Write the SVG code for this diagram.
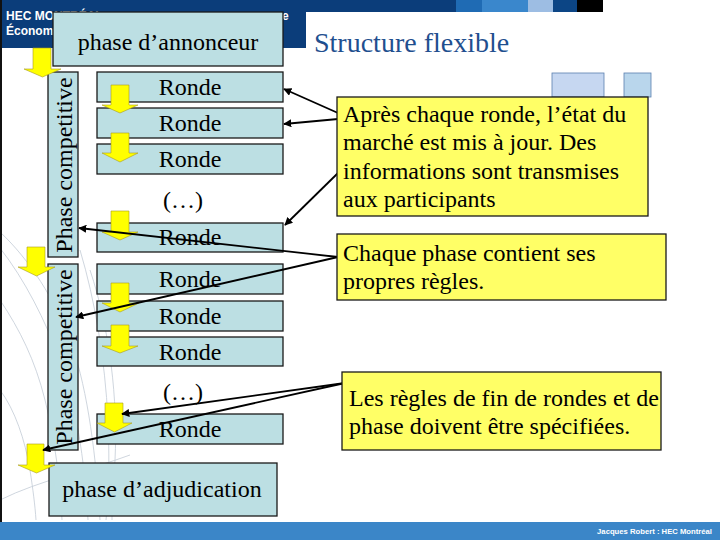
<svg xmlns="http://www.w3.org/2000/svg" width="720" height="540" viewBox="0 0 720 540">
<defs>
<style>
.box{fill:#bcdfe3;stroke:#1a1a1a;stroke-width:1.3}
.note{fill:#ffff66;stroke:#1a1a1a;stroke-width:1.3}
.t{font-size:24px;fill:#000}
.mid{text-anchor:middle}
.ya{fill:#ffff00;stroke:#a89a20;stroke-width:0.6}
.con{stroke:#000;stroke-width:1.8;fill:none;marker-end:url(#ah)}
.bg{fill:none;stroke:#c3cbd6;stroke-width:0.8}
.hdr{font-weight:bold;font-size:12px;fill:#fff}
</style>
<marker id="ah" viewBox="0 0 10 10" refX="9" refY="5" markerWidth="4.5" markerHeight="4.5" orient="auto" markerUnits="strokeWidth">
<path d="M0,0 L10,5 L0,10 Z" fill="#000"/>
</marker>
</defs>

<rect x="0" y="0" width="720" height="540" fill="#fff"/>

<!-- faint background lines -->
<g id="background-lines">
<path class="bg" d="M0,232 C30,260 55,300 70,340 C85,380 95,440 100,520"/>
<path class="bg" d="M0,248 C25,280 45,320 60,360 C75,400 85,460 88,520"/>
<path class="bg" d="M0,300 C20,330 35,360 45,400 C55,440 60,480 62,520"/>
<path class="bg" d="M0,390 C15,410 25,440 30,470 C33,490 35,505 36,520"/>
<path class="bg" d="M0,500 C40,480 90,470 130,455"/>
<path class="bg" d="M80,250 C95,300 105,360 108,420 C110,470 108,500 106,520"/>
<path class="bg" d="M90,270 C110,330 118,400 115,460 C113,490 112,505 112,520"/>
</g>

<!-- header -->
<g id="header" font-family="'Liberation Sans', Arial, sans-serif">
<rect x="0" y="0" width="306" height="48" fill="#0b3d7a"/>
<rect x="0" y="0" width="456" height="12" fill="#0b3d7a"/>
<rect x="456" y="0" width="26" height="12" fill="#1f6bb4"/>
<rect x="482" y="0" width="46" height="12" fill="#3a87cc"/>
<rect x="528" y="0" width="25" height="12" fill="#9dbde3"/>
<rect x="553" y="0" width="24" height="12" fill="#0c4585"/>
<rect x="577" y="0" width="26" height="12" fill="#000"/>
<rect x="0" y="0" width="2" height="522" fill="#111"/>
<text class="hdr" x="6" y="20">HEC MONTRÉAL</text>
<text class="hdr" x="6" y="35">Économie</text>
<text class="hdr" x="282" y="20">e</text>
</g>

<g id="title">
<text x="314" y="52" font-family="'Liberation Serif', 'Times New Roman', serif" font-size="28" fill="#1f4f8f">Structure flexible</text>
</g>

<g id="deco-squares">
<rect x="552" y="73" width="52" height="24" fill="#c6d7f1" stroke="#5a7fb0" stroke-width="0.8"/>
<rect x="624" y="73" width="27" height="24" fill="#b9d6ec" stroke="#5a7fb0" stroke-width="0.8"/>
</g>

<g id="diagram" font-family="'Liberation Serif', 'Times New Roman', serif">
<!-- nodes -->
<g id="node-annonceur">
<rect class="box" x="53" y="12" width="230" height="54"/>
<text class="t mid" x="168" y="50">phase d’annonceur</text>
</g>

<g id="node-phase-comp-1">
<rect class="box" x="48" y="72" width="30" height="185"/>
<text class="t mid" transform="translate(72,165) rotate(-90)">Phase competitive</text>
</g>

<g id="node-phase-comp-2">
<rect class="box" x="48" y="264" width="30" height="186"/>
<text class="t mid" transform="translate(72,357) rotate(-90)">Phase competitive</text>
</g>

<g id="node-ronde-1"><rect class="box" x="97" y="72" width="186" height="30"/><text class="t mid" x="190" y="95">Ronde</text></g>
<g id="node-ronde-2"><rect class="box" x="97" y="108" width="186" height="30"/><text class="t mid" x="190" y="131">Ronde</text></g>
<g id="node-ronde-3"><rect class="box" x="97" y="144" width="186" height="30"/><text class="t mid" x="190" y="167">Ronde</text></g>
<g id="node-etc-1"><text class="t mid" x="183" y="208">(…)</text></g>
<g id="node-ronde-4"><rect class="box" x="97" y="223" width="186" height="29"/><text class="t mid" x="190" y="245">Ronde</text></g>
<g id="node-ronde-5"><rect class="box" x="97" y="264" width="186" height="30"/><text class="t mid" x="190" y="287">Ronde</text></g>
<g id="node-ronde-6"><rect class="box" x="97" y="301" width="186" height="30"/><text class="t mid" x="190" y="324">Ronde</text></g>
<g id="node-ronde-7"><rect class="box" x="97" y="337" width="186" height="29"/><text class="t mid" x="190" y="360">Ronde</text></g>
<g id="node-etc-2"><text class="t mid" x="183" y="400">(…)</text></g>
<g id="node-ronde-8"><rect class="box" x="97" y="414" width="186" height="30"/><text class="t mid" x="190" y="437">Ronde</text></g>

<g id="node-adjudication">
<rect class="box" x="49" y="463" width="228" height="53"/>
<text class="t mid" x="162" y="497">phase d’adjudication</text>
</g>

<!-- yellow block arrows -->
<g id="flow-arrows">
<path class="ya" d="M33,48 H51 V69 H61 L42.5,77 L24,69 H33 Z"/>
<path class="ya" d="M27,247 H45 V267 H55 L36.5,276 L18,267 H27 Z"/>
<path class="ya" d="M27,444 H44 V465 H55 L36.5,473 L18,465 H27 Z"/>
<path class="ya" d="M111,85 H129 V105 H138 L120,113 L102,105 H111 Z"/>
<path class="ya" d="M111,133 H129 V153 H138 L120,162 L102,153 H111 Z"/>
<path class="ya" d="M111,211 H129 V232 H138 L120,240 L102,232 H111 Z"/>
<path class="ya" d="M111,283 H129 V303 H139 L120,312 L102,303 H111 Z"/>
<path class="ya" d="M111,325 H129 V346 H138 L120,353 L102,346 H111 Z"/>
<path class="ya" d="M105,403 H123 V423 H132 L114.5,432 L97,423 H105 Z"/>
</g>

<!-- connectors -->
<g id="connectors">
<line class="con" x1="338" y1="113" x2="284" y2="89"/>
<line class="con" x1="338" y1="119" x2="284" y2="124"/>
<line class="con" x1="338" y1="173" x2="285" y2="225"/>
<line class="con" x1="338" y1="257" x2="79" y2="228"/>
<line class="con" x1="338" y1="257" x2="76" y2="317"/>
<line class="con" x1="345" y1="383" x2="122" y2="414"/>
<line class="con" x1="345" y1="383" x2="43" y2="450"/>
</g>

<!-- notes -->
<g id="note-1">
<rect class="note" x="337" y="97" width="311" height="119"/>
<text class="t" x="343" y="122">Après chaque ronde, l’état du</text>
<text class="t" x="343" y="150">marché est mis à jour. Des</text>
<text class="t" x="343" y="179">informations sont transmises</text>
<text class="t" x="343" y="207">aux participants</text>
</g>
<g id="note-2">
<rect class="note" x="337" y="234" width="329" height="66"/>
<text class="t" x="343" y="261">Chaque phase contient ses</text>
<text class="t" x="343" y="289">propres règles.</text>
</g>
<g id="note-3">
<rect class="note" x="342" y="372" width="319" height="78"/>
<text class="t" x="349" y="406">Les règles de fin de rondes et de</text>
<text class="t" x="349" y="434">phase doivent être spécifiées.</text>
</g>
</g>

<!-- footer -->
<g id="footer">
<rect x="0" y="522" width="720" height="18" fill="#3b86c8"/>
<text x="712" y="534" text-anchor="end" font-family="'Liberation Sans', Arial, sans-serif" font-weight="bold" font-size="7.7" fill="#fff">Jacques Robert : HEC Montréal</text>
</g>
</svg>
